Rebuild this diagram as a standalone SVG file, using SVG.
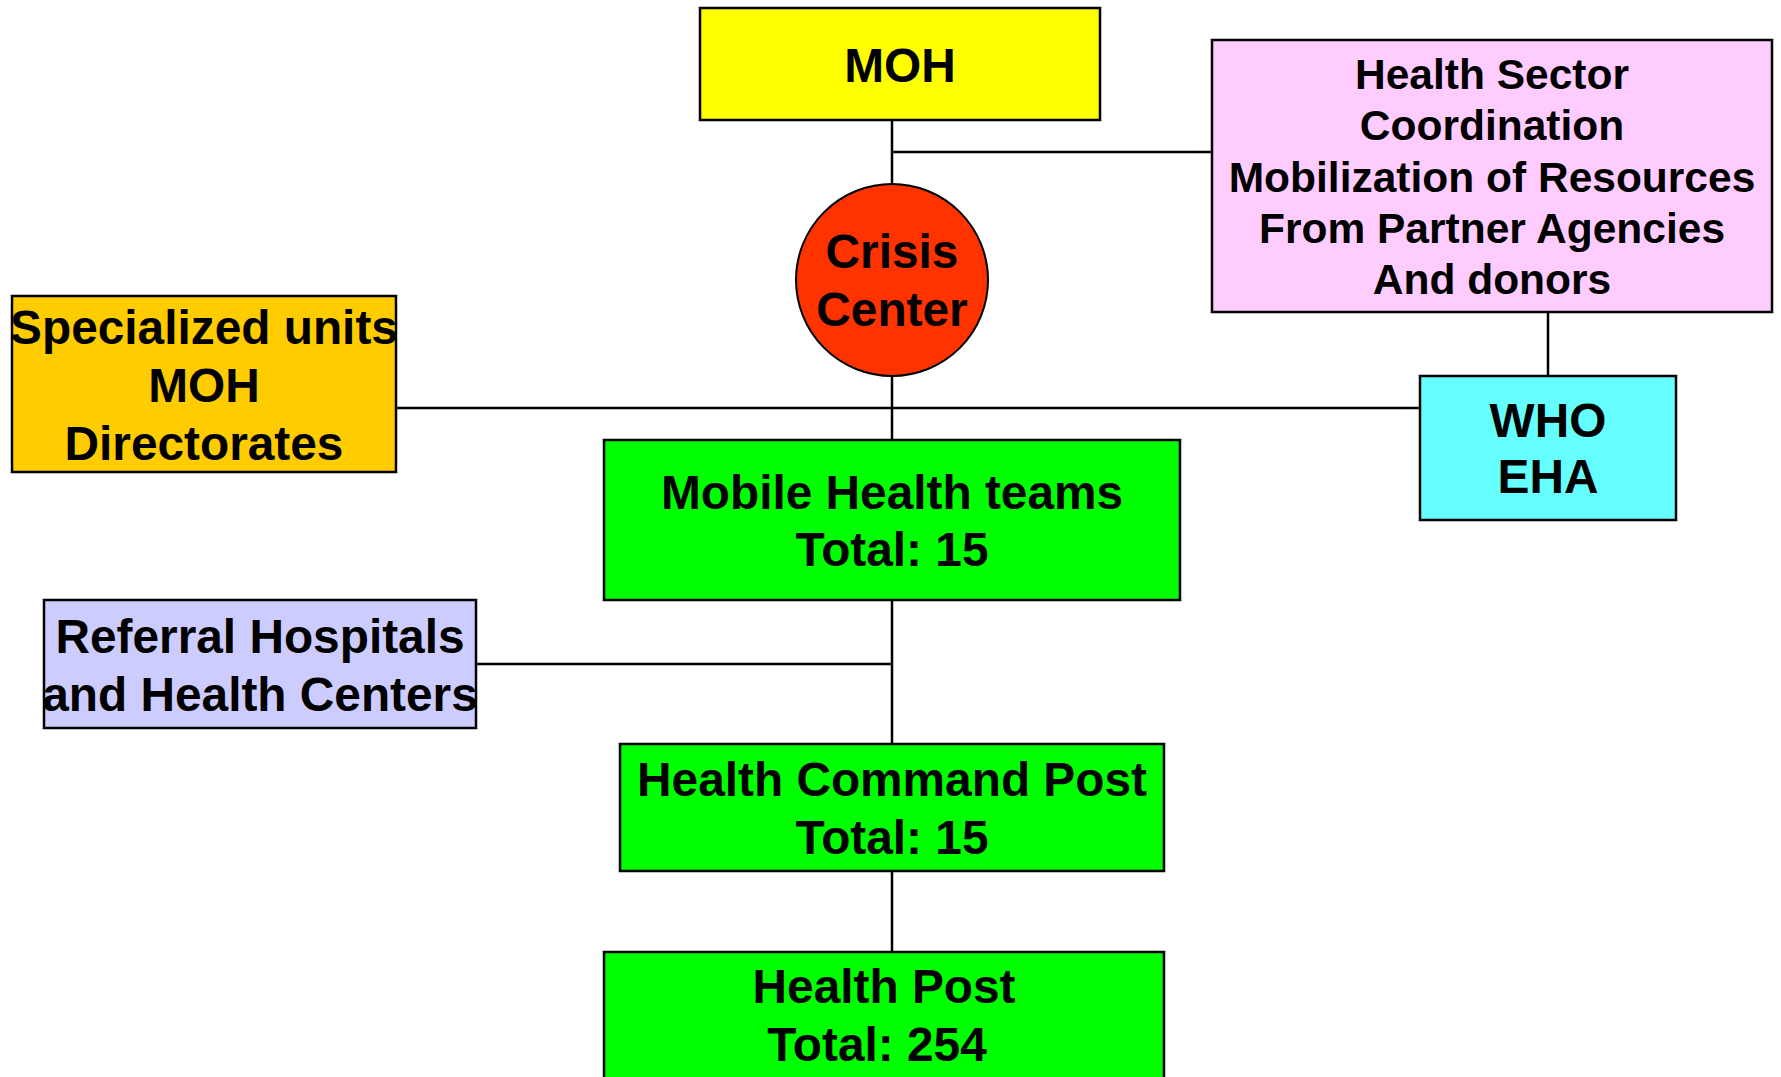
<svg xmlns="http://www.w3.org/2000/svg" width="1781" height="1077" viewBox="0 0 1781 1077">
<style>
.box{stroke:#000;stroke-width:2.5}
.t{font-family:"Liberation Sans",Arial,sans-serif;font-weight:bold;font-size:47.8px;text-anchor:middle;fill:#000}
.tp{font-size:42.5px}
.c{stroke:#000;stroke-width:2.5;fill:none}
</style>
<rect width="1781" height="1077" fill="#fff"/>
<g id="connectors">
<line class="c" x1="892" y1="120" x2="892" y2="183"/>
<line class="c" x1="892" y1="152" x2="1212" y2="152"/>
<line class="c" x1="892" y1="376" x2="892" y2="440"/>
<line class="c" x1="396" y1="408" x2="1420" y2="408"/>
<line class="c" x1="1548" y1="312" x2="1548" y2="376"/>
<line class="c" x1="892" y1="600" x2="892" y2="744"/>
<line class="c" x1="476" y1="664" x2="892" y2="664"/>
<line class="c" x1="892" y1="871" x2="892" y2="952"/>
</g>
<g id="moh">
<rect class="box" x="700" y="8" width="400" height="112" fill="#FFFF00"/>
<text class="t" x="900" y="82">MOH</text>
</g>
<g id="crisis">
<circle cx="892" cy="280" r="96" fill="#FF3300" stroke="#000" stroke-width="2"/>
<text class="t" x="892" y="268">Crisis</text>
<text class="t" x="892" y="326">Center</text>
</g>
<g id="partners">
<rect class="box" x="1212" y="40" width="560" height="272" fill="#FFCCFF"/>
<text class="t tp" x="1492" y="89">Health Sector</text>
<text class="t tp" x="1492" y="140">Coordination</text>
<text class="t tp" x="1492" y="192">Mobilization of Resources</text>
<text class="t tp" x="1492" y="243">From Partner Agencies</text>
<text class="t tp" x="1492" y="294">And donors</text>
</g>
<g id="specialized">
<rect class="box" x="12" y="296" width="384" height="176" fill="#FFCC00"/>
<text class="t" x="204" y="344">Specialized units</text>
<text class="t" x="204" y="402">MOH</text>
<text class="t" x="204" y="460">Directorates</text>
</g>
<g id="who">
<rect class="box" x="1420" y="376" width="256" height="144" fill="#66FFFF"/>
<text class="t" x="1548" y="437">WHO</text>
<text class="t" x="1548" y="493">EHA</text>
</g>
<g id="mobile">
<rect class="box" x="604" y="440" width="576" height="160" fill="#00FF00"/>
<text class="t" x="892" y="509">Mobile Health teams</text>
<text class="t" x="892" y="566">Total: 15</text>
</g>
<g id="referral">
<rect class="box" x="44" y="600" width="432" height="128" fill="#CCCCFF"/>
<text class="t" x="260" y="653">Referral Hospitals</text>
<text class="t" x="260" y="711">and Health Centers</text>
</g>
<g id="command">
<rect class="box" x="620" y="744" width="544" height="127" fill="#00FF00"/>
<text class="t" x="892" y="796">Health Command Post</text>
<text class="t" x="892" y="854">Total: 15</text>
</g>
<g id="healthpost">
<rect class="box" x="604" y="952" width="560" height="140" fill="#00FF00"/>
<text class="t" x="884" y="1003">Health Post</text>
<text class="t" x="877" y="1061">Total: 254</text>
</g>
</svg>
